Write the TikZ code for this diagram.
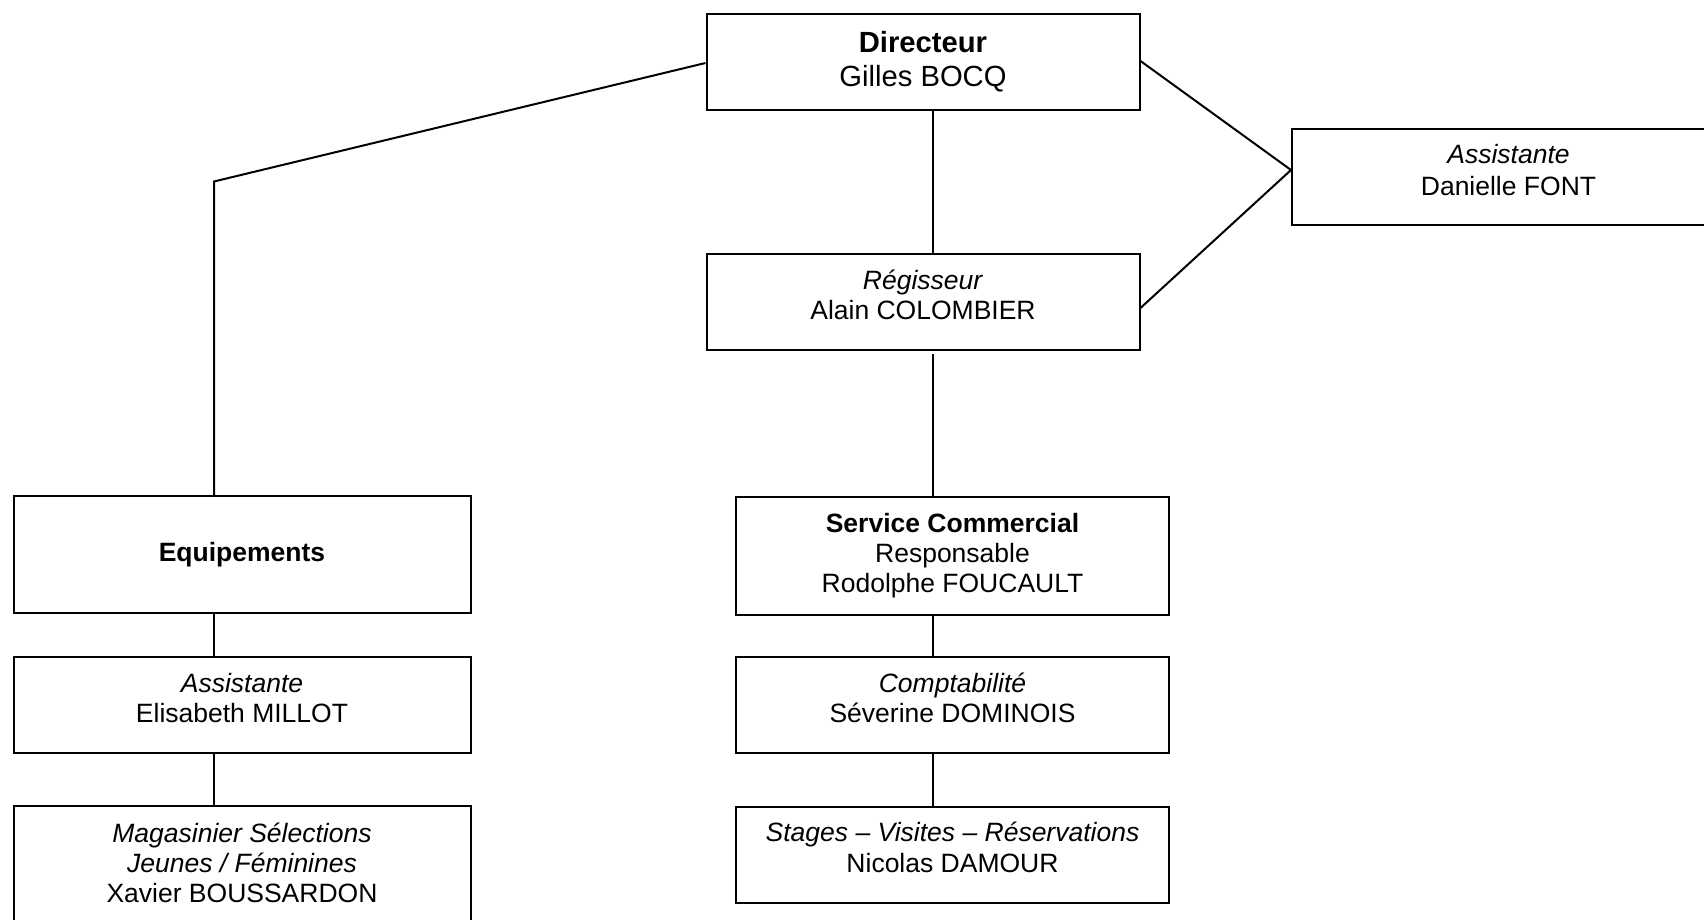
\documentclass[tikz,border=0pt]{standalone}
\usepackage{fontspec}
\setmainfont{Liberation Sans}
\begin{document}
\begin{tikzpicture}[x=0.5pt,y=-0.5pt,
  box/.style={draw=black,line width=1pt,rectangle,inner sep=0pt,align=center,
    font=\fontsize{13.25pt}{15pt}\selectfont},
  wbox/.style={box,minimum width=216.5pt,minimum height=48pt},
  txt/.style={inner sep=0pt,align=center,font=\fontsize{13.25pt}{15.25pt}\selectfont},
  conn/.style={draw=black,line width=1pt}]
\useasboundingbox (0,0) rectangle (1704,920);
\fill[white] (0,0) rectangle (1704,920);

\node[wbox,font=\fontsize{14.6pt}{17pt}\selectfont] (dir) at (923,62) {\textbf{Directeur}\\Gilles BOCQ};
\node[wbox] (reg) at (923,302) {};
\node[txt] (regt) at (923,295) {\textit{Régisseur}\\Alain COLOMBIER};
\node[wbox] (asd) at (1508.5,177) {};
\node[txt,font=\fontsize{13.25pt}{16pt}\selectfont] (asdt) at (1508.5,170) {\textit{Assistante}\\Danielle FONT};

\node[box,minimum width=228.5pt,minimum height=58.5pt] (equ) at (242,554.5) {\textbf{Equipements}};
\node[box,minimum width=228.5pt,minimum height=48pt] (ase) at (242,705) {};
\node[txt] (aset) at (242,698) {\textit{Assistante}\\Elisabeth MILLOT};
\node[box,minimum width=228.5pt,minimum height=59pt] (mag) at (242,865) {};
\node[txt,font=\fontsize{13.25pt}{15pt}\selectfont] (magt) at (242,862.5) {\textit{Magasinier Sélections}\\\textit{Jeunes / Féminines}\\Xavier BOUSSARDON};

\node[box,minimum width=216.5pt,minimum height=59pt] (ser) at (952.5,556) {\textbf{Service Commercial}\\Responsable\\Rodolphe FOUCAULT};
\node[wbox] (com) at (952.5,705) {};
\node[txt] (comt) at (952.5,698) {\textit{Comptabilité}\\Séverine DOMINOIS};
\node[wbox] (sta) at (952.5,854.5) {};
\node[txt] (stat) at (952.5,847.5) {\textit{Stages – Visites – Réservations}\\Nicolas DAMOUR};

\coordinate (cx) at (933,0);
\coordinate (lx) at (214,0);
\coordinate (lcorner) at (214,181.5);
\coordinate (rcorner) at (1292,170);

\draw[conn] ([yshift=-1pt]dir.west |- 0,61) -- (lcorner) -- (equ.north -| lx);
\draw[conn] (dir.east |- 0,61) -- (asd.west |- rcorner) -- (reg.east |- 0,308);
\draw[conn] (dir.south -| cx) -- (reg.north -| cx);
\draw[conn] ([yshift=-1.5pt]reg.south -| cx) -- (ser.north -| cx);
\draw[conn] (ser.south -| cx) -- (com.north -| cx);
\draw[conn] (com.south -| cx) -- (sta.north -| cx);
\draw[conn] (equ.south -| lx) -- (ase.north -| lx);
\draw[conn] (ase.south -| lx) -- (mag.north -| lx);
\end{tikzpicture}
\end{document}
